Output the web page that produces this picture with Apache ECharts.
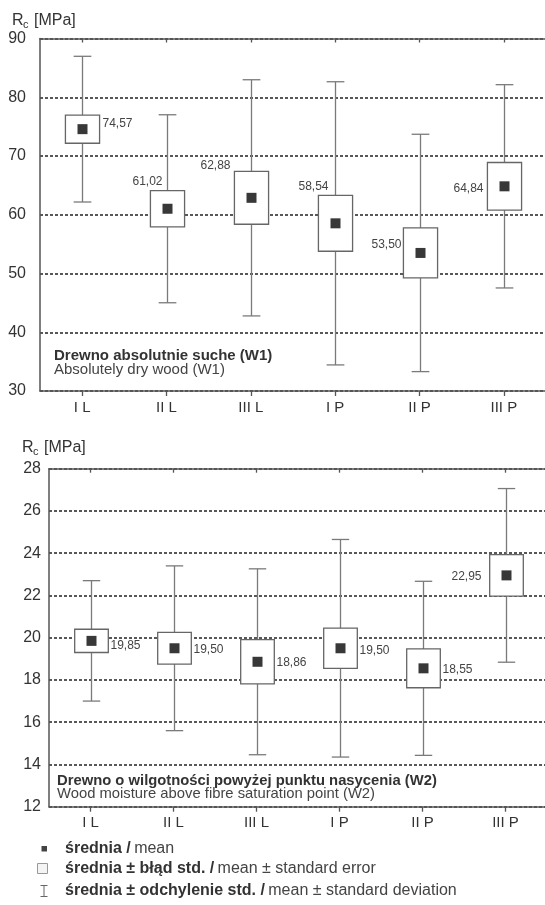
<!DOCTYPE html>
<html><head><meta charset="utf-8">
<script src="https://cdn.jsdelivr.net/npm/echarts@6/dist/echarts.min.js"></script>
<style>html,body{margin:0;padding:0;background:#fff}#c{width:545px;height:905px}</style>
</head><body><div id="c"></div>
<script>
// ---- data ----
const categories = ['I L', 'II L', 'III L', 'I P', 'II P', 'III P'];
// W1: absolutely dry wood
const meanW1 = [74.57, 61.02, 62.88, 58.54, 53.50, 64.84];
const seW1   = [2.40, 3.10, 4.50, 4.75, 4.25, 4.05];
const sdW1   = [12.40, 16.00, 20.10, 24.10, 20.20, 17.30];
// W2: wood moisture above fibre saturation point
const meanW2 = [19.85, 19.50, 18.86, 19.50, 18.55, 22.95];
const seW2   = [0.55, 0.75, 1.05, 0.95, 0.92, 0.98];
const sdW2   = [2.85, 3.90, 4.40, 5.15, 4.12, 4.11];
const yTicksW1 = [30, 40, 50, 60, 70, 80, 90];
const yTicksW2 = [12, 14, 16, 18, 20, 22, 24, 26, 28];

// ---- label placement (style only) ----
const placeW1 = [
  {align: 'left', dx: 20, dy: -5},
  {align: 'right', dx: -5, dy: -27},
  {align: 'right', dx: -21, dy: -32},
  {align: 'right', dx: -7, dy: -37},
  {align: 'right', dx: -19, dy: -8},
  {align: 'right', dx: -21, dy: 2}
];
const placeW2 = [
  {align: 'left', dx: 19, dy: 5},
  {align: 'left', dx: 19, dy: 1},
  {align: 'left', dx: 19, dy: 1},
  {align: 'left', dx: 19, dy: 2},
  {align: 'left', dx: 19, dy: 1},
  {align: 'right', dx: -25, dy: 1}
];

const FONT = 'Liberation Sans, Arial, sans-serif';
const fmt = v => v.toFixed(2).replace('.', ',');

function makeRender(place) {
  return function (params, api) {
    const i = api.value(0);
    const m = api.value(1), s = api.value(2), d = api.value(3);
    const pm = api.coord([i, m]);
    const x = Math.round(pm[0]) + 0.5;
    const ySDt = api.coord([i, m + d])[1], ySDb = api.coord([i, m - d])[1];
    const ySEt = api.coord([i, m + s])[1], ySEb = api.coord([i, m - s])[1];
    const band = api.size([1, 0])[0];
    const bw = band * 0.405, cap = band * 0.21, mk = 10;
    const p = place[i];
    const wStyle = {stroke: '#7a7a7a', lineWidth: 1.3};
    return {
      type: 'group',
      children: [
        {type: 'line', shape: {x1: x, y1: ySDt, x2: x, y2: ySDb}, style: wStyle},
        {type: 'line', shape: {x1: x - cap / 2, y1: ySDt, x2: x + cap / 2, y2: ySDt}, style: wStyle},
        {type: 'line', shape: {x1: x - cap / 2, y1: ySDb, x2: x + cap / 2, y2: ySDb}, style: wStyle},
        {type: 'rect', shape: {x: x - bw / 2, y: ySEt, width: bw, height: ySEb - ySEt},
          style: {fill: '#fff', stroke: '#666', lineWidth: 1.3}},
        {type: 'rect', shape: {x: x - mk / 2, y: pm[1] - mk / 2, width: mk, height: mk},
          style: {fill: '#383838'}},
        {type: 'text', x: x + p.dx, y: pm[1] + p.dy,
          style: {text: fmt(m), fill: '#444', font: '12px ' + FONT, align: p.align, verticalAlign: 'middle'}}
      ]
    };
  };
}

const gridLine = {show: true, lineStyle: {color: '#222', type: [3, 2], width: 1.5}};
const axLine = {show: true, lineStyle: {color: '#555', width: 1.5}};

function xAxes(gi) {
  return [
    {type: 'category', gridIndex: gi, data: categories, position: 'bottom',
      axisLine: axLine,
      axisTick: {show: true, alignWithLabel: true, length: 5, inside: false, lineStyle: {color: '#555', width: 1.3}},
      axisLabel: {color: '#333', fontSize: 15, fontFamily: FONT, margin: 9},
      splitLine: {show: false}},
    {type: 'category', gridIndex: gi, data: categories, position: 'top',
      axisLine: axLine,
      axisTick: {show: true, alignWithLabel: true, length: 4, inside: true, lineStyle: {color: '#555', width: 1.3}},
      axisLabel: {show: false}, splitLine: {show: false}}
  ];
}

function yAxis(gi, ticks, margin) {
  const step = ticks[1] - ticks[0];
  return {type: 'value', gridIndex: gi, min: ticks[0], max: ticks[ticks.length - 1], interval: step,
    axisLine: axLine, axisTick: {show: false},
    axisLabel: {color: '#333', fontSize: 16, fontFamily: FONT, margin: margin},
    splitLine: gridLine};
}

const chart = echarts.init(document.getElementById('c'), null, {renderer: 'canvas'});

function titleRc(x, y) {
  return [
    {type: 'text', left: x, top: y, style: {text: 'R', font: '16px ' + FONT, fill: '#333'}},
    {type: 'text', left: x + 11, top: y + 6, style: {text: 'c', font: '11px ' + FONT, fill: '#333'}},
    {type: 'text', left: x + 22, top: y, style: {text: '[MPa]', font: '16px ' + FONT, fill: '#333'}}
  ];
}

chart.setOption({
  animation: false,
  backgroundColor: '#fff',
  grid: [
    {left: 40, top: 38.5, width: 506, height: 352.5, outerBoundsMode: 'none', containLabel: false},
    {left: 49, top: 468.7, width: 498, height: 338, outerBoundsMode: 'none', containLabel: false}
  ],
  xAxis: [...xAxes(0), ...xAxes(1)],
  yAxis: [yAxis(0, yTicksW1, 14), yAxis(1, yTicksW2, 8)],
  series: [
    {type: 'custom', xAxisIndex: 0, yAxisIndex: 0, renderItem: makeRender(placeW1),
      data: categories.map((c, i) => [i, meanW1[i], seW1[i], sdW1[i]]), clip: false},
    {type: 'custom', xAxisIndex: 2, yAxisIndex: 1, renderItem: makeRender(placeW2),
      data: categories.map((c, i) => [i, meanW2[i], seW2[i], sdW2[i]]), clip: false}
  ],
  graphic: [
    ...titleRc(12, 13),
    ...titleRc(22, 440),
    {type: 'text', left: 54, top: 348, style: {
      text: '{b|Drewno absolutnie suche (W1)}\n{n|Absolutely dry wood (W1)}',
      rich: {b: {font: 'bold 15px ' + FONT, fill: '#333', lineHeight: 14.5},
             n: {font: '15px ' + FONT, fill: '#444', lineHeight: 14.5}}}},
    {type: 'text', left: 57, top: 773, style: {
      text: '{b|Drewno o wilgotności powyżej punktu nasycenia (W2)}\n{n|Wood moisture above fibre saturation point (W2)}',
      rich: {b: {font: 'bold 14.8px ' + FONT, fill: '#333', lineHeight: 13.5},
             n: {font: '14.8px ' + FONT, fill: '#444', lineHeight: 13.5}}}},
    // legend
    {type: 'rect', shape: {x: 41.5, y: 846, width: 5.5, height: 5.5}, style: {fill: '#444'}},
    {type: 'rect', shape: {x: 37.5, y: 863.5, width: 10, height: 10}, style: {fill: '#f4f4f4', stroke: '#999', lineWidth: 1}},
    {type: 'line', shape: {x1: 44, y1: 885, x2: 44, y2: 897}, style: {stroke: '#666', lineWidth: 1}},
    {type: 'line', shape: {x1: 40.5, y1: 885.5, x2: 47.5, y2: 885.5}, style: {stroke: '#666', lineWidth: 1}},
    {type: 'line', shape: {x1: 40.5, y1: 896.5, x2: 47.5, y2: 896.5}, style: {stroke: '#666', lineWidth: 1}},
    {type: 'text', left: 65, top: 841, style: {text: '{b|średnia /} {n|mean}',
      rich: {b: {font: 'bold 16px ' + FONT, fill: '#333'}, n: {font: '16px ' + FONT, fill: '#444'}}}},
    {type: 'text', left: 65, top: 861, style: {text: '{b|średnia ± błąd std. /} {n|mean ± standard error}',
      rich: {b: {font: 'bold 16px ' + FONT, fill: '#333'}, n: {font: '16px ' + FONT, fill: '#444'}}}},
    {type: 'text', left: 65, top: 883, style: {text: '{b|średnia ± odchylenie std. /} {n|mean ± standard deviation}',
      rich: {b: {font: 'bold 16px ' + FONT, fill: '#333'}, n: {font: '16px ' + FONT, fill: '#444'}}}}
  ]
});
</script>
</body></html>
